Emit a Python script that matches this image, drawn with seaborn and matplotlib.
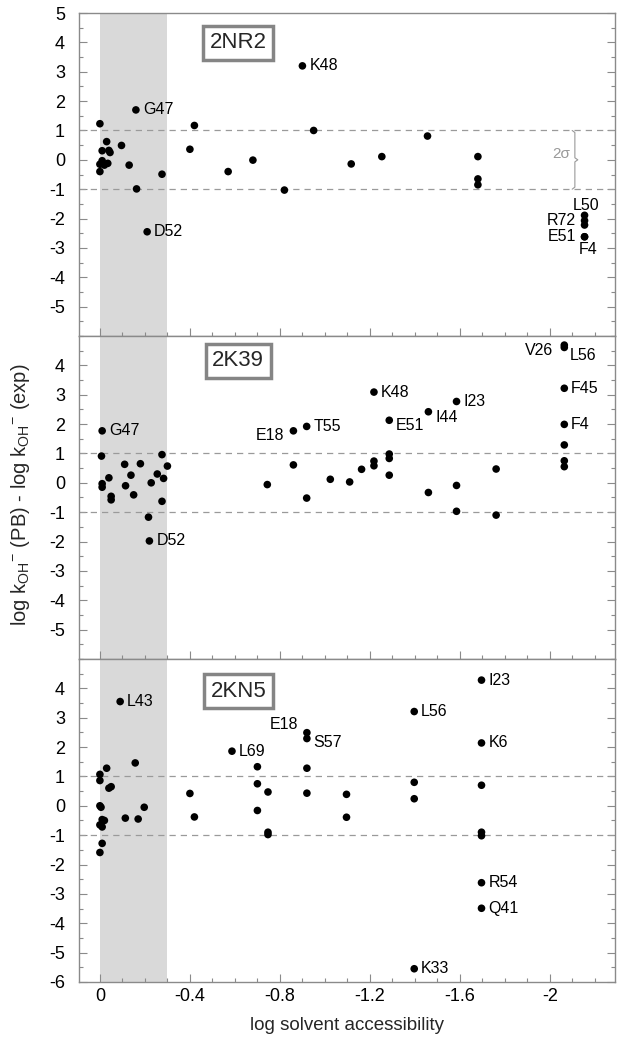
import numpy as np
import pandas as pd
import matplotlib
matplotlib.use("Agg")
import matplotlib.pyplot as plt
import seaborn as sns
from matplotlib.ticker import MultipleLocator, FixedLocator

# ---------------- data ----------------
panel_names = ["2NR2", "2K39", "2KN5"]

# 2NR2
nr2_x = [0.0, -0.03, -0.01, -0.04, -0.045, -0.01, 0.0, -0.02, -0.035, 0.0, -0.096, -0.13,
         -0.163, -0.276, -0.40, -0.42, -0.57, -0.68, -0.82, -0.95, -1.117, -1.253, -1.456,
         -1.68, -1.68, -1.68, -2.154]
nr2_y = [1.23, 0.62, 0.31, 0.32, 0.25, -0.03, -0.15, -0.18, -0.12, -0.40, 0.49, -0.18,
         -0.99, -0.49, 0.36, 1.17, -0.40, -0.01, -1.03, 1.0, -0.14, 0.11, 0.81,
         0.11, -0.65, -0.85, -2.22]
nr2_lab = ["G47", "K48", "D52", "L50", "R72", "E51", "F4"]
nr2_lx = [-0.16, -0.90, -0.21, -2.154, -2.154, -2.154, -2.154]
nr2_ly = [1.70, 3.20, -2.45, -1.89, -2.07, -2.62, -2.62]

# 2K39
k39_x = [-0.007, -0.04, -0.01, -0.01, -0.05, -0.05, -0.11, -0.138, -0.114, -0.15, -0.18,
         -0.216, -0.228, -0.255, -0.276, -0.283, -0.276, -0.30, -0.744, -0.86, -0.919,
         -1.024, -1.11, -1.163, -1.218, -1.218, -1.286, -1.286, -1.286, -1.46, -1.585,
         -1.585, -1.761, -1.761, -2.064, -2.064, -2.064]
k39_y = [0.91, 0.17, -0.03, -0.15, -0.46, -0.58, 0.63, 0.26, -0.10, -0.41, 0.65,
         -1.17, 0.0, 0.30, 0.96, 0.15, -0.63, 0.57, -0.06, 0.61, -0.52,
         0.12, 0.03, 0.46, 0.74, 0.58, 0.98, 0.83, 0.26, -0.33, -0.09,
         -0.97, 0.47, -1.10, 1.29, 0.75, 0.55]
k39_lab = ["G47", "D52", "E18", "T55", "K48", "E51", "I44", "I23", "V26", "L56", "F45", "F4"]
k39_lx = [-0.01, -0.22, -0.86, -0.919, -1.218, -1.286, -1.46, -1.585, -2.064, -2.064, -2.064, -2.064]
k39_ly = [1.77, -1.98, 1.77, 1.92, 3.09, 2.13, 2.42, 2.77, 4.69, 4.61, 3.22, 1.99]

# 2KN5
kn5_x = [0.0, 0.0, -0.03, -0.04, -0.05, 0.0, -0.005, -0.01, -0.02, 0.0, -0.01, -0.01, 0.0,
         -0.157, -0.113, -0.17, -0.197, -0.40, -0.42, -0.70, -0.70, -0.70, -0.747, -0.747,
         -0.747, -0.92, -0.92, -1.096, -1.096, -1.397, -1.397, -1.696, -1.696, -1.696]
kn5_y = [1.07, 0.86, 1.28, 0.60, 0.65, 0.0, -0.05, -0.47, -0.50, -0.65, -0.72, -1.28, -1.59,
         1.46, -0.42, -0.45, -0.05, 0.42, -0.38, 1.33, 0.75, -0.16, 0.47, -0.90,
         -0.98, 1.28, 0.43, 0.39, -0.39, 0.80, 0.24, 0.70, -0.90, -1.02]
kn5_lab = ["L43", "L69", "E18", "S57", "L56", "K33", "I23", "K6", "R54", "Q41"]
kn5_lx = [-0.09, -0.587, -0.92, -0.92, -1.397, -1.397, -1.696, -1.696, -1.696, -1.696]
kn5_ly = [3.55, 1.86, 2.49, 2.29, 3.21, -5.55, 4.28, 2.14, -2.62, -3.49]

panel_pts = [(nr2_x, nr2_y), (k39_x, k39_y), (kn5_x, kn5_y)]
panel_lab = [(nr2_lab, nr2_lx, nr2_ly), (k39_lab, k39_lx, k39_ly), (kn5_lab, kn5_lx, kn5_ly)]

sigma_band = [1, -1]
ytick_sets = [list(range(-5, 6)), list(range(-5, 5)), list(range(-6, 5))]
xticks = [0, -0.4, -0.8, -1.2, -1.6, -2]
xtick_labels = ["0", "-0.4", "-0.8", "-1.2", "-1.6", "-2"]

# ---------------- style ----------------
sns.set_style("ticks")
plt.rcParams["font.family"] = ["Liberation Sans", "DejaVu Sans"]
plt.rcParams["mathtext.fontset"] = "custom"
plt.rcParams["mathtext.rm"] = "Liberation Sans"
plt.rcParams["mathtext.it"] = "Liberation Sans:italic"
plt.rcParams["mathtext.bf"] = "Liberation Sans:bold"
plt.rcParams["axes.unicode_minus"] = False

SPINE = "#8a8a8a"
BAND = "#d9d9d9"
DASH = "#9a9a9a"

# label offsets in points: (dx, dy, ha, va)
default_off = (5, 0, "left", "center")
offsets = [
    {"L50": (1, 2, "center", "bottom"), "R72": (-6, 0, "right", "center"),
     "E51": (-6, 0, "right", "center"), "F4": (2.5, -4, "center", "top")},
    {"E18": (-6.5, -3.6, "right", "center"), "V26": (-8, -4, "right", "center"),
     "L56": (4, -6, "left", "center"), "E51": (5, -3.6, "left", "center"),
     "I44": (5, -4.3, "left", "center")},
    {"E18": (-6, 6, "right", "center"), "S57": (4.5, -3, "left", "center")},
]
box_pos = [(-0.615, 3.98), (-0.615, 4.15), (-0.615, 3.9)]

fig, axes = plt.subplots(3, 1, figsize=(6.17, 10.5), dpi=100, sharex=True)
fig.subplots_adjust(left=0.128, right=0.997, top=0.9876, bottom=0.0648, hspace=0)

for i, ax in enumerate(axes):
    px, py = panel_pts[i]
    labs, lx, ly = panel_lab[i]
    ax.axvspan(0, -0.3, color=BAND, lw=0, zorder=0)
    for yv in sigma_band:
        ax.axhline(yv, ls=(0, (5, 4)), color=DASH, lw=0.9, zorder=1)
    df = pd.DataFrame({"x": list(px) + list(lx), "y": list(py) + list(ly)})
    sns.scatterplot(data=df, x="x", y="y", ax=ax, color="black", s=30,
                    edgecolor="none", linewidth=0, legend=False, zorder=3)
    for name, xv, yv in zip(labs, lx, ly):
        dx, dy, ha, va = offsets[i].get(name, default_off)
        ax.annotate(name, (xv, yv), xytext=(dx, dy), textcoords="offset points",
                    ha=ha, va=va, fontsize=11.5, color="black", zorder=4)
    bx, by = box_pos[i]
    ax.text(bx, by, panel_names[i], fontsize=16, ha="center", va="center", zorder=5,
            bbox=dict(boxstyle="square,pad=0.3", fc="white", ec="#858585", lw=2.5))

    ax.set_ylim(-6, 5)
    ax.set_xlim(0.093, -2.29)
    ax.yaxis.set_major_locator(FixedLocator(ytick_sets[i]))
    ax.yaxis.set_minor_locator(MultipleLocator(0.5))
    ax.xaxis.set_major_locator(FixedLocator(xticks))
    ax.xaxis.set_minor_locator(MultipleLocator(0.1))
    ax.tick_params(axis="both", which="both", direction="in", colors=SPINE,
                   labelcolor="black", labelsize=13, right=True, top=False)
    ax.tick_params(axis="both", which="major", length=6, width=0.8)
    ax.tick_params(axis="both", which="minor", length=3, width=0.8)
    ax.tick_params(axis="y", which="both", pad=10)
    ax.tick_params(axis="x", which="both", pad=4)
    for sp in ax.spines.values():
        sp.set_visible(True)
        sp.set_color(SPINE)
        sp.set_linewidth(1.0)
    ax.set_xlabel("")
    ax.set_ylabel("")

# 2-sigma bracket on top panel
ax0 = axes[0]
bx = -2.111
ax0.plot([bx + 0.012, bx, bx, bx - 0.013, bx, bx, bx + 0.012],
         [1.0, 0.93, 0.07, 0.0, -0.07, -0.93, -1.0], color="#999999", lw=0.8, zorder=2)
ax0.text(-2.052, 0.2, "2σ", fontsize=11, color="#999999", ha="center", va="center")

axes[2].set_xticklabels(xtick_labels)
axes[2].set_xlabel("log solvent accessibility", fontsize=13.5, labelpad=9)
fig.text(0.034, 0.529,
         r"log k$_{\mathregular{OH}}{}^{\mathregular{-}}$ (PB) - log k$_{\mathregular{OH}}{}^{\mathregular{-}}$ (exp)",
         fontsize=14.5, rotation=90, ha="center", va="center", rotation_mode="default")

fig.savefig("out.png", dpi=100)
